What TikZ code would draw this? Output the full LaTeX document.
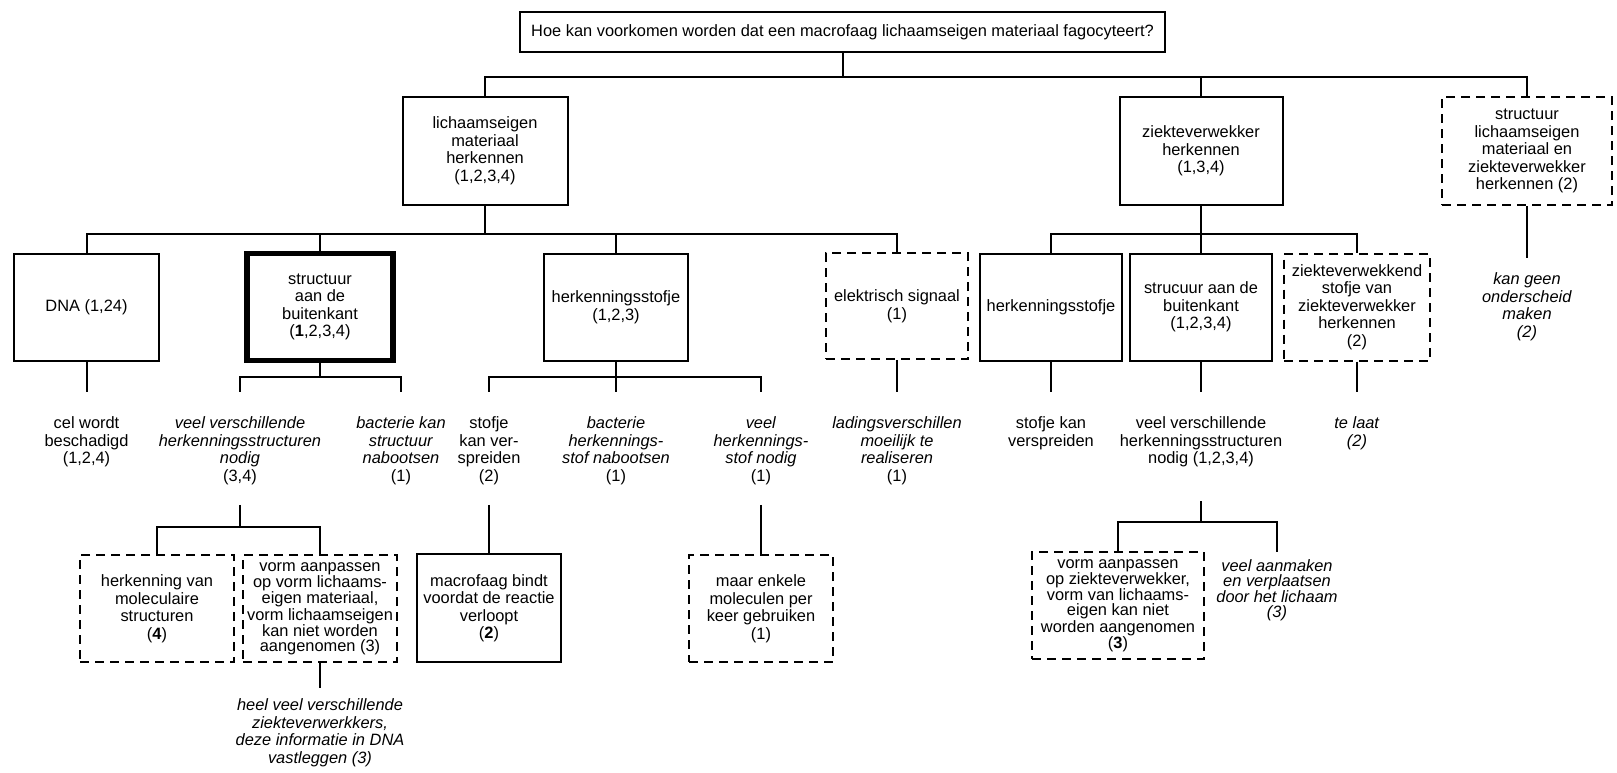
\documentclass[tikz,border=0pt]{standalone}
\usepackage{fontspec}
\setmainfont{Liberation Sans}

\tikzset{
  kader/.style={draw, line width=2pt, align=center, inner sep=2pt},
  streepkader/.style={kader, dash pattern=on 9pt off 6pt},
  dikkader/.style={kader, line width=5.5pt},
  lbl/.style={align=center, inner sep=0pt, anchor=north},
  krap/.style={font=\fontsize{16.4}{15}\selectfont},
}

\begin{document}
\begin{tikzpicture}[x=1pt, y=-1pt, line width=2pt, font=\fontsize{16.4}{17.5}\selectfont]
    \useasboundingbox (0,0) rectangle (1617,772);

    % question
    \node[kader, minimum width=645, minimum height=40] (vraag) at (842.5,32) {Hoe kan voorkomen worden dat een macrofaag lichaamseigen materiaal fagocyteert?};

    % first level
    \node[kader, minimum width=165, minimum height=108] (eigen) at (485,151) {lichaamseigen\\materiaal\\herkennen\\(1,2,3,4)};
    \node[kader, minimum width=163, minimum height=108] (ziek) at (1201,151) {ziekteverwekker\\herkennen\\(1,3,4)};
    \node[streepkader, minimum width=170, minimum height=108] (beide) at (1527,151) {structuur\\lichaamseigen\\materiaal en\\ziekteverwekker\\herkennen (2)};

    \coordinate (j0) at (842.5,77);
    \draw (vraag) -- (j0);
    \draw (eigen) |- (j0) -| (beide);
    \draw (ziek) -- (ziek |- j0);

    % second level, lichaamseigen
    \node[kader, minimum width=145, minimum height=107] (dna) at (86.5,307) {DNA (1,24)};
    \node[dikkader, minimum width=146, minimum height=107] (buiten) at (320,307) {structuur\\aan de\\buitenkant\\(\textbf{1},2,3,4)};
    \node[kader, minimum width=144, minimum height=107] (stof) at (616,307) {herkenningsstofje\\(1,2,3)};
    \node[streepkader, minimum width=142, minimum height=106] (signaal) at (897,306) {elektrisch signaal\\(1)};

    \coordinate (j1) at (485,234);
    \draw (eigen) -- (j1);
    \draw (dna) |- (j1) -| (signaal);
    \draw (buiten) -- (buiten |- j1);
    \draw (stof) -- (stof |- j1);

    % second level, ziekteverwekker
    \node[kader, minimum width=142, minimum height=107] (stof2) at (1051,307) {herkenningsstofje};
    \node[kader, minimum width=142, minimum height=107] (buiten2) at (1201,307) {strucuur aan de\\buitenkant\\(1,2,3,4)};
    \node[streepkader, minimum width=146, minimum height=107] (eigenstof) at (1357,307) {ziekteverwekkend\\stofje van\\ziekteverwekker\\herkennen\\(2)};

    \coordinate (j2) at (1201,234);
    \draw (ziek) -- (j2);
    \draw (stof2) |- (j2) -| (eigenstof);
    \draw (buiten2) -- (j2);

    % objections
    \node[lbl] (cel) at (86.5,416) {cel wordt\\beschadigd\\(1,2,4)};
    \node[lbl] (veel) at (240,416) {\textit{veel verschillende}\\\textit{herkenningsstructuren}\\\textit{nodig}\\(3,4)};
    \node[lbl] (bact) at (401,416) {\textit{bacterie kan}\\\textit{structuur}\\\textit{nabootsen}\\(1)};
    \node[lbl] (spreid) at (489,416) {stofje\\kan ver-\\spreiden\\(2)};
    \node[lbl] (nabootsen) at (616,416) {\textit{bacterie}\\\textit{herkennings-}\\\textit{stof nabootsen}\\(1)};
    \node[lbl] (veelstof) at (761,416) {\textit{veel}\\\textit{herkennings-}\\\textit{stof nodig}\\(1)};
    \node[lbl] (lading) at (897,416) {\textit{ladingsverschillen}\\\textit{moeilijk te}\\\textit{realiseren}\\(1)};
    \node[lbl] (spreid2) at (1051,416) {stofje kan\\verspreiden};
    \node[lbl] (veel2) at (1201,416) {veel verschillende\\herkenningsstructuren\\nodig (1,2,3,4)};
    \node[lbl] (laat) at (1357,416) {\textit{te laat}\\\textit{(2)}};
    \node[lbl] (geen) at (1527,272) {\textit{kan geen}\\\textit{onderscheid}\\\textit{maken}\\\textit{(2)}};

    \coordinate (j3) at (320,377);
    \draw (buiten) -- (j3);
    \draw[shorten >=24pt] (j3) -| (veel);
    \draw[shorten >=24pt] (j3) -| (bact);

    \coordinate (j4) at (616,377);
    \draw (stof) -- (j4);
    \draw[shorten >=24pt] (j4) -| (spreid);
    \draw[shorten >=24pt] (j4) -- (nabootsen);
    \draw[shorten >=24pt] (j4) -| (veelstof);

    \draw[shorten >=24pt] (dna) -- (cel);
    \draw[shorten >=24pt] (signaal) -- (lading);
    \draw[shorten >=24pt] (stof2) -- (spreid2);
    \draw[shorten >=24pt] (buiten2) -- (veel2);
    \draw[shorten >=24pt] (eigenstof) -- (laat);
    \draw[shorten >=14pt] (beide) -- (geen);

    % third level
    \node[streepkader, minimum width=154, minimum height=107] (mol) at (157,608.5) {herkenning van\\moleculaire\\structuren\\(\textbf{4})};
    \node[streepkader, krap, minimum width=154, minimum height=107] (vorm) at (320,608.5) {vorm aanpassen\\op vorm lichaams-\\eigen materiaal,\\vorm lichaamseigen\\kan niet worden\\aangenomen (3)};
    \node[kader, minimum width=144, minimum height=108] (bindt) at (489,608) {macrofaag bindt\\voordat de reactie\\verloopt\\(\textbf{2})};
    \node[streepkader, minimum width=144, minimum height=107] (enkele) at (761,608.5) {maar enkele\\moleculen per\\keer gebruiken\\(1)};
    \node[streepkader, krap, minimum width=172, minimum height=107] (vorm2) at (1118,605.5) {vorm aanpassen\\op ziekteverwekker,\\vorm van lichaams-\\eigen kan niet\\worden aangenomen\\(\textbf{3})};
    \node[lbl, font=\fontsize{16.4}{14.5}\selectfont] (aanmaken) at (1277,559) {\textit{veel aanmaken}\\\textit{en verplaatsen}\\\textit{door het lichaam}\\\textit{(3)}};
    \node[lbl] (vastleggen) at (320,698) {\textit{heel veel verschillende}\\\textit{ziekteverwerkkers,}\\\textit{deze informatie in DNA}\\\textit{vastleggen (3)}};

    \coordinate (j5) at (240,527);
    \draw[shorten <=19pt] (veel) -- (j5);
    \draw (j5) -| (mol);
    \draw (j5) -| (vorm);
    \draw[shorten >=10pt] (vorm) -- (vastleggen);

    \draw[shorten <=19pt] (spreid) -- (bindt);
    \draw[shorten <=19pt] (veelstof) -- (enkele);

    \coordinate (j6) at (1201,522);
    \draw[shorten <=33pt] (veel2) -- (j6);
    \draw (j6) -| (vorm2);
    \draw[shorten >=7pt] (j6) -| (aanmaken);
\end{tikzpicture}
\end{document}
